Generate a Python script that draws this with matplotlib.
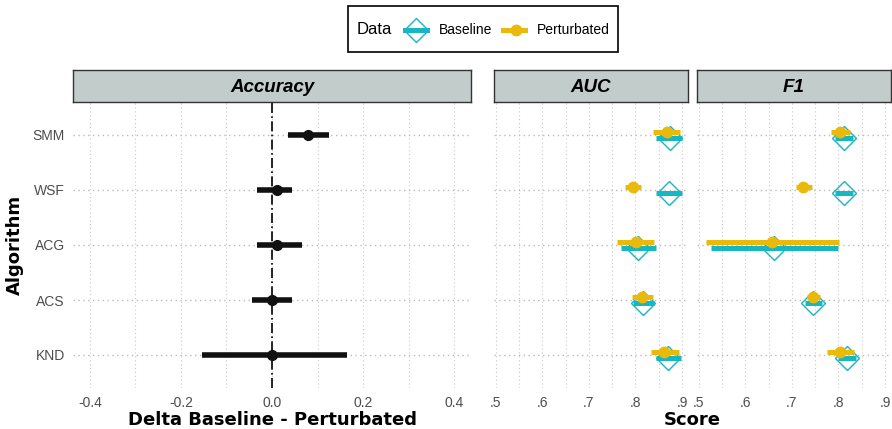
import numpy as np
import matplotlib
matplotlib.use("Agg")
import matplotlib.pyplot as plt
from matplotlib.lines import Line2D
from matplotlib.patches import Rectangle
from matplotlib.ticker import MultipleLocator

# ---- data ----
algos = ["KND", "ACS", "ACG", "WSF", "SMM"]   # bottom -> top

delta_mean = [0.0, 0.0, 0.010, 0.010, 0.080]
delta_lo = [-0.153, -0.043, -0.034, -0.034, 0.036]
delta_hi = [0.164, 0.045, 0.065, 0.045, 0.125]

auc_base = [0.870, 0.816, 0.806, 0.873, 0.874]
auc_base_lo = [0.844, 0.794, 0.768, 0.845, 0.845]
auc_base_hi = [0.898, 0.840, 0.845, 0.901, 0.901]
auc_pert = [0.861, 0.814, 0.801, 0.794, 0.867]
auc_pert_lo = [0.833, 0.793, 0.761, 0.777, 0.838]
auc_pert_hi = [0.893, 0.837, 0.840, 0.811, 0.895]

f1_base = [0.818, 0.745, 0.662, 0.811, 0.812]
f1_base_lo = [0.799, 0.728, 0.526, 0.793, 0.793]
f1_base_hi = [0.838, 0.765, 0.799, 0.831, 0.831]
f1_pert = [0.803, 0.745, 0.657, 0.724, 0.804]
f1_pert_lo = [0.776, 0.733, 0.516, 0.708, 0.785]
f1_pert_hi = [0.834, 0.761, 0.801, 0.743, 0.824]

score_ticks = [0.5, 0.6, 0.7, 0.8, 0.9]
score_labels = [".5", ".6", ".7", ".8", ".9"]
delta_ticks = [-0.4, -0.2, 0.0, 0.2, 0.4]
delta_labels = ["-0.4", "-0.2", "0.0", "0.2", "0.4"]

TEAL = "#17B6C3"
GOLD = "#E9BA0C"
STRIP = "#C2CCCB"
GRID = "#C8C8C8"
TICKC = "#4D4D4D"
SANS = ["Liberation Sans", "DejaVu Sans"]

W, H = 892, 429
fig = plt.figure(figsize=(W / 100, H / 100), dpi=100)


def px(x0, y0, x1, y1):
    # pixel box -> figure fraction rect
    return [x0 / W, 1 - y1 / H, (x1 - x0) / W, (y1 - y0) / H]


def style_ax(ax, xlim, major, minor):
    ax.set_xlim(*xlim)
    ax.set_ylim(0.4, 5.6)
    ax.xaxis.set_major_locator(MultipleLocator(major))
    ax.xaxis.set_minor_locator(MultipleLocator(minor))
    ax.grid(True, which="both", axis="x", color=GRID, ls=(0, (1, 2.5)), lw=0.8)
    ax.grid(True, which="major", axis="y", color="#BBBBBB", ls=(0, (1, 2.5)), lw=1.0)
    ax.set_axisbelow(True)
    for s in ax.spines.values():
        s.set_visible(False)
    ax.tick_params(length=0, which="both", labelsize=10, labelcolor=TICKC, pad=6)
    ax.set_yticks(np.arange(1, len(algos) + 1))
    for lab in ax.get_xticklabels() + ax.get_yticklabels():
        lab.set_family(SANS)


def strip(rect, title):
    sa = fig.add_axes(rect)
    sa.set_facecolor(STRIP)
    sa.set_xticks([])
    sa.set_yticks([])
    for s in sa.spines.values():
        s.set_color("#333333")
        s.set_linewidth(1.0)
    sa.text(0.5, 0.45, title, transform=sa.transAxes, ha="center", va="center",
            fontsize=13.5, fontweight="bold", style="italic", family=SANS)


y = np.arange(1, len(algos) + 1)

# ---- Accuracy delta panel ----
ax1 = fig.add_axes(px(73, 102, 471, 388))
style_ax(ax1, (-0.437, 0.437), 0.2, 0.1)
ax1.axvline(0, color="black", ls=(0, (6, 2, 1, 2)), lw=1.2, zorder=2)
ax1.hlines(y, delta_lo, delta_hi, color="#111111", lw=4, zorder=3)
ax1.plot(delta_mean, y, "o", color="#111111", ms=7, zorder=4)
ax1.set_xticks(delta_ticks)
ax1.set_xticklabels(delta_labels)
ax1.set_yticklabels(algos)
ax1.set_ylabel("Algorithm", fontsize=13, fontweight="bold", family="DejaVu Sans",
               labelpad=6)
strip(px(73, 70, 471, 102), "Accuracy")

# ---- score panels ----
dy = 0.06
panels = [
    ("AUC", px(494, 102, 688, 388), px(494, 70, 688, 102),
     auc_base, auc_base_lo, auc_base_hi, auc_pert, auc_pert_lo, auc_pert_hi),
    ("F1", px(697, 102, 891, 388), px(697, 70, 891, 102),
     f1_base, f1_base_lo, f1_base_hi, f1_pert, f1_pert_lo, f1_pert_hi),
]
for (name, rect, srect, b, blo, bhi, p, plo, phi) in panels:
    ax = fig.add_axes(rect)
    style_ax(ax, (0.496, 0.913), 0.1, 0.05)
    ax.plot(b, y - dy, "D", mfc="none", mec=TEAL, mew=1.0, ms=12, zorder=3)
    ax.hlines(y - dy, blo, bhi, color=TEAL, lw=3.6, zorder=4)
    ax.hlines(y + dy, plo, phi, color=GOLD, lw=3.6, zorder=5)
    ax.plot(p, y + dy, "o", color=GOLD, ms=7.5, zorder=6)
    ax.set_xticks(score_ticks)
    ax.set_xticklabels(score_labels)
    ax.set_yticklabels([])
    for lab in ax.get_xticklabels():
        lab.set_family(SANS)
    strip(srect, name)

# axis titles placed under each block
fig.text(272 / W, 1 - 420 / H, "Delta Baseline - Perturbated", ha="center",
         va="center", fontsize=13, fontweight="bold", family="DejaVu Sans")
fig.text(692 / W, 1 - 420 / H, "Score", ha="center", va="center", fontsize=13,
         fontweight="bold", family="DejaVu Sans")

# ---- legend (drawn by hand to put the title beside the keys) ----
fig.patches.append(Rectangle((348 / W, 1 - 52 / H), 270 / W, 46 / H,
                             transform=fig.transFigure, fill=False,
                             ec="black", lw=1.2))
ly = 1 - 30 / H
fig.text(357 / W, ly, "Data", ha="left", va="center", fontsize=12, family=SANS)
fig.add_artist(Line2D([416 / W], [ly], marker="D", mfc="none", mec=TEAL, mew=1.0,
                      ms=12, transform=fig.transFigure))
fig.add_artist(Line2D([405 / W, 427 / W], [ly, ly], color=TEAL, lw=3.6,
                      transform=fig.transFigure))
fig.text(439 / W, ly, "Baseline", ha="left", va="center", fontsize=10, family=SANS)
fig.add_artist(Line2D([503 / W, 525 / W], [ly, ly], color=GOLD, lw=3.6,
                      transform=fig.transFigure))
fig.add_artist(Line2D([516 / W], [ly], marker="o", color=GOLD, ms=7.5,
                      transform=fig.transFigure))
fig.text(537 / W, ly, "Perturbated", ha="left", va="center", fontsize=10,
         family=SANS)

fig.savefig("out.png", dpi=100)
